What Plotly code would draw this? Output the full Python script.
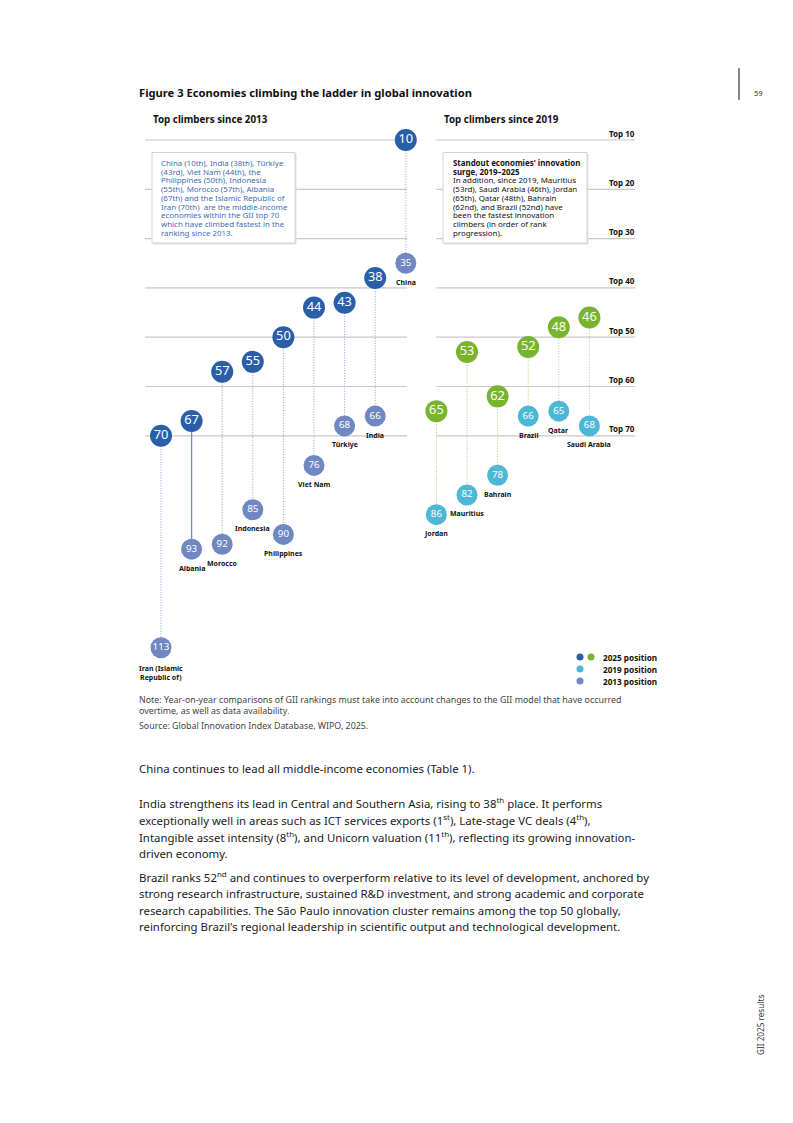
import plotly.graph_objects as go

# ---------------- data ----------------
left_countries = ["Iran (Islamic<br>Republic of)", "Albania", "Morocco", "Indonesia",
                  "Philippines", "Viet Nam", "Türkiye", "India", "China"]
left_rank_2025 = [70, 67, 57, 55, 50, 44, 43, 38, 10]
left_rank_2013 = [113, 93, 92, 85, 90, 76, 68, 66, 35]

right_countries = ["Jordan", "Mauritius", "Bahrain", "Brazil", "Qatar", "Saudi Arabia"]
right_rank_2025 = [65, 53, 62, 52, 48, 46]
right_rank_2019 = [86, 82, 78, 66, 65, 68]

tier_ranks = [10, 20, 30, 40, 50, 60, 70]
tier_labels = ["Top 10", "Top 20", "Top 30", "Top 40", "Top 50", "Top 60", "Top 70"]

legend_labels = ["2025 position", "2019 position", "2013 position"]

left_box_lines = [
    "China (10th), India (38th), Türkiye",
    "(43rd), Viet Nam (44th), the",
    "Philippines (50th), Indonesia",
    "(55th), Morocco (57th), Albania",
    "(67th) and the Islamic Republic of",
    "Iran (70th)  are the middle-income",
    "economies within the GII top 70",
    "which have climbed fastest in the",
    "ranking since 2013.",
]
right_box_lines = [
    "<b>Standout economies' innovation</b>",
    "<b>surge, 2019–2025</b>",
    "In addition, since 2019, Mauritius",
    "(53rd), Saudi Arabia (46th), Jordan",
    "(65th), Qatar (48th), Bahrain",
    "(62nd), and Brazil (52nd) have",
    "been the fastest innovation",
    "climbers (in order of rank",
    "progression).",
]
body_paragraphs = [
    ["China continues to lead all middle-income economies (Table 1)."],
    ["India strengthens its lead in Central and Southern Asia, rising to 38<sup>th</sup> place. It performs",
     "exceptionally well in areas such as ICT services exports (1<sup>st</sup>), Late-stage VC deals (4<sup>th</sup>),",
     "Intangible asset intensity (8<sup>th</sup>), and Unicorn valuation (11<sup>th</sup>), reflecting its growing innovation-",
     "driven economy."],
    ["Brazil ranks 52<sup>nd</sup> and continues to overperform relative to its level of development, anchored by",
     "strong research infrastructure, sustained R&D investment, and strong academic and corporate",
     "research capabilities. The São Paulo innovation cluster remains among the top 50 globally,",
     "reinforcing Brazil's regional leadership in scientific output and technological development."],
]

# ---------------- styling ----------------
W, H = 793, 1123
FONT = "Noto Sans"
C25_BLUE = "#2a5ea8"
C13 = "#7088c2"
C19 = "#4db7d6"
C25_GREEN = "#79b42e"
LINE_BLUE = "#8aa3d4"
LINE_BLUE_SOLID = "#6a8ac6"
LINE_GREEN = "#b8cb86"
GRID = "#c8c8c8"
DOTS = "1px,1.6px"

# axis mapping (data units -> page pixels)
X0_PX, X_STEP = 161.0, 30.6
Y0_PX, Y_STEP = 90.7, 4.93
x_range = [-X0_PX / X_STEP, (W - X0_PX) / X_STEP]
y_range = [(H - Y0_PX) / Y_STEP, -Y0_PX / Y_STEP]


def px(x):
    return x / W


def py(y):
    return 1 - y / H


n_left = len(left_countries)
left_x = list(range(n_left))
right_x = [n_left + i for i in range(len(right_countries))]

fig = go.Figure()

# connectors
dot_x, dot_y, sol_x, sol_y = [], [], [], []
for xi, name, a, b in zip(left_x, left_countries, left_rank_2025, left_rank_2013):
    if name == "Albania":
        sol_x += [xi, xi, None]
        sol_y += [a, b, None]
    else:
        dot_x += [xi, xi, None]
        dot_y += [a, b, None]
fig.add_trace(go.Scatter(x=dot_x, y=dot_y, mode="lines",
                         line=dict(color=LINE_BLUE, width=1, dash=DOTS), hoverinfo="skip"))
fig.add_trace(go.Scatter(x=sol_x, y=sol_y, mode="lines",
                         line=dict(color=LINE_BLUE_SOLID, width=1.3), hoverinfo="skip"))
rg_x, rg_y = [], []
for xi, a, b in zip(right_x, right_rank_2025, right_rank_2019):
    rg_x += [xi, xi, None]
    rg_y += [a, b, None]
fig.add_trace(go.Scatter(x=rg_x, y=rg_y, mode="lines",
                         line=dict(color=LINE_GREEN, width=1, dash=DOTS), hoverinfo="skip"))

# old positions
fig.add_trace(go.Scatter(
    x=left_x, y=left_rank_2013, mode="markers+text", text=[str(v) for v in left_rank_2013],
    textposition="middle center", cliponaxis=False,
    textfont=dict(family=FONT, color="white", size=9.8),
    marker=dict(size=21, color=C13, line=dict(width=0))))
fig.add_trace(go.Scatter(
    x=right_x, y=right_rank_2019, mode="markers+text", text=[str(v) for v in right_rank_2019],
    textposition="middle center", cliponaxis=False,
    textfont=dict(family=FONT, color="white", size=9.8),
    marker=dict(size=21, color=C19, line=dict(width=0))))
# 2025 positions
fig.add_trace(go.Scatter(
    x=left_x, y=left_rank_2025, mode="markers+text", text=[str(v) for v in left_rank_2025],
    textposition="middle center", cliponaxis=False,
    textfont=dict(family=FONT, color="white", size=12.8),
    marker=dict(size=22, color=C25_BLUE, line=dict(width=0))))
fig.add_trace(go.Scatter(
    x=right_x, y=right_rank_2025, mode="markers+text", text=[str(v) for v in right_rank_2025],
    textposition="middle center", cliponaxis=False,
    textfont=dict(family=FONT, color="white", size=12.8),
    marker=dict(size=22, color=C25_GREEN, line=dict(width=0))))

shapes = []
annotations = []

# gridlines (tiers)
LEFT_G = (-0.52, 8.04)
RIGHT_G = (9.0, 15.5)
for r in tier_ranks:
    for g0, g1 in (LEFT_G, RIGHT_G):
        shapes.append(dict(type="line", xref="x", yref="y", x0=g0, x1=g1, y0=r, y1=r,
                           line=dict(color=GRID, width=1.2), layer="below"))
for r, lab in zip(tier_ranks, tier_labels):
    annotations.append(dict(xref="x", yref="y", x=RIGHT_G[1] + 0.05, y=r, yshift=7,
                            text=f"<b>{lab}</b>", showarrow=False, xanchor="right", yanchor="middle",
                            font=dict(family=FONT, size=8, color="#111")))

# country labels
for xi, name, r in zip(left_x, left_countries, left_rank_2013):
    ys = -25 if "<br>" in name else -19
    annotations.append(dict(xref="x", yref="y", x=xi, y=r, yshift=ys, text=f"<b>{name}</b>",
                            showarrow=False, xanchor="center", yanchor="middle",
                            font=dict(family=FONT, size=7, color="#111")))
for xi, name, r in zip(right_x, right_countries, right_rank_2019):
    annotations.append(dict(xref="x", yref="y", x=xi, y=r, yshift=-19, text=f"<b>{name}</b>",
                            showarrow=False, xanchor="center", yanchor="middle",
                            font=dict(family=FONT, size=7, color="#111")))

# text boxes
for (bx0, bx1), lines, tx, col in (((152, 295), left_box_lines, 159, "#3f6db5"),
                                  ((443, 587), right_box_lines, 451, "#111")):
    shapes.append(dict(type="rect", xref="paper", yref="paper", x0=px(bx0 + 1.5), x1=px(bx1 + 1.5),
                       y0=py(244.5), y1=py(154), fillcolor="#e2e2e2", line=dict(width=0), layer="above"))
    shapes.append(dict(type="rect", xref="paper", yref="paper", x0=px(bx0), x1=px(bx1),
                       y0=py(243), y1=py(152.5), fillcolor="white",
                       line=dict(color="#d4d4d4", width=1), layer="above"))
    for i, ln in enumerate(lines):
        annotations.append(dict(xref="paper", yref="paper", x=px(tx), y=py(162.8 + 8.77 * i),
                                text=ln, showarrow=False, xanchor="left", yanchor="middle",
                                font=dict(family=FONT, size=7.9, color=col)))

# titles
annotations.append(dict(xref="paper", yref="paper", x=px(137), y=py(92),
                        text="<b>Figure 3 Economies climbing the ladder in global innovation</b>",
                        showarrow=False, xanchor="left", yanchor="middle",
                        font=dict(family=FONT, size=11.2, color="#111")))
for tx, t in ((151, "Top climbers since 2013"), (442, "Top climbers since 2019")):
    annotations.append(dict(xref="paper", yref="paper", x=px(tx), y=py(119), text=f"<b>{t}</b>",
                            showarrow=False, xanchor="left", yanchor="middle",
                            font=dict(family=FONT, size=9.8, color="#111")))

# legend
legend_dots = [[(580, C25_BLUE), (591, C25_GREEN)], [(580, C19)], [(580, C13)]]
for i, (lab, dots) in enumerate(zip(legend_labels, legend_dots)):
    yy = 657 + 12 * i
    for dx, c in dots:
        shapes.append(dict(type="circle", xref="paper", yref="paper",
                           x0=px(dx - 3.5), x1=px(dx + 3.5), y0=py(yy + 3.5), y1=py(yy - 3.5),
                           fillcolor=c, line=dict(width=0)))
    annotations.append(dict(xref="paper", yref="paper", x=px(601), y=py(yy), text=f"<b>{lab}</b>",
                            showarrow=False, xanchor="left", yanchor="middle",
                            font=dict(family=FONT, size=8.2, color="#111")))

# note / source
note_lines = [(700, "Note: Year-on-year comparisons of GII rankings must take into account changes to the GII model that have occurred"),
              (711, "overtime, as well as data availability."),
              (726, "Source: Global Innovation Index Database, WIPO, 2025.")]
for yy, t in note_lines:
    annotations.append(dict(xref="paper", yref="paper", x=px(137), y=py(yy), text=t,
                            showarrow=False, xanchor="left", yanchor="middle",
                            font=dict(family=FONT, size=8.85, color="#444")))

# body text
body_y = [[768], [802, 819, 836, 853], [876, 893, 910, 926]]
for para, ys in zip(body_paragraphs, body_y):
    for ln, yy in zip(para, ys):
        annotations.append(dict(xref="paper", yref="paper", x=px(137), y=py(yy), text=ln,
                                showarrow=False, xanchor="left", yanchor="middle",
                                font=dict(family=FONT, size=11.4, color="#1a1a1a")))

# page furniture
shapes.append(dict(type="line", xref="paper", yref="paper", x0=px(739), x1=px(739),
                   y0=py(68), y1=py(100), line=dict(color="#111", width=1)))
annotations.append(dict(xref="paper", yref="paper", x=px(752), y=py(93), text="59",
                        showarrow=False, xanchor="left", yanchor="middle",
                        font=dict(family=FONT, size=7.5, color="#333")))
annotations.append(dict(xref="paper", yref="paper", x=px(760), y=py(1025), text="GII 2025 results",
                        showarrow=False, textangle=-90, xanchor="center", yanchor="middle",
                        font=dict(family=FONT, size=8.2, color="#333")))

fig.update_layout(
    width=W, height=H, margin=dict(l=0, r=0, t=0, b=0),
    paper_bgcolor="white", plot_bgcolor="white", showlegend=False,
    xaxis=dict(range=x_range, visible=False, fixedrange=True),
    yaxis=dict(range=y_range, visible=False, fixedrange=True),
    shapes=shapes, annotations=annotations,
    font=dict(family=FONT),
)

fig.write_html("out.html", config={"displayModeBar": False},
               post_script="document.body.style.margin='0';document.body.style.overflow='hidden';")
